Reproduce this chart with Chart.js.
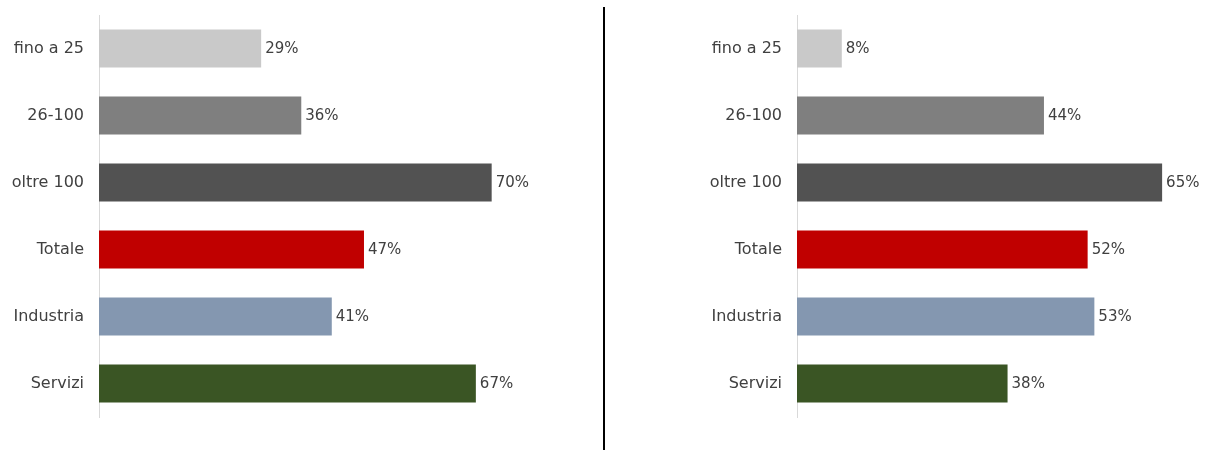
<!DOCTYPE html>
<html>
<head>
<meta charset="utf-8">
<script src="https://cdn.jsdelivr.net/npm/chart.js@4.4.1/dist/chart.umd.min.js"></script>
<style>
    html, body { margin: 0; padding: 0; background: #fff; }
    body { width: 1206px; height: 450px; position: relative; overflow: hidden; }
    .box { position: absolute; top: 0; width: 600px; height: 450px; }
    #leftBox { left: 0; }
    #rightBox { left: 606px; }
    #divider { position: absolute; left: 603px; top: 7px; width: 2px; height: 443px; background: #000; }
</style>
</head>
<body>
<div class="box" id="leftBox"><canvas id="leftChart"></canvas></div>
<div id="divider"></div>
<div class="box" id="rightBox"><canvas id="rightChart"></canvas></div>
<script>
    // Data (percent; labels show rounded values)
    const categories = ['fino a 25', '26-100', 'oltre 100', 'Totale', 'Industria', 'Servizi'];
    const leftValues = [28.7, 35.8, 69.5, 46.9, 41.2, 66.7];
    const rightValues = [8.0, 44.1, 65.2, 51.9, 53.1, 37.6];
    const barColors = ['#C9C9C9', '#7F7F7F', '#525252', '#C00000', '#8497B0', '#3A5524'];

    const fontFamily = '"DejaVu Sans", sans-serif';
    const textColor = '#404040';

    // Draws "NN%" right after each bar end
    const valueLabels = {
        id: 'valueLabels',
        afterDatasetsDraw(chart) {
            const ctx = chart.ctx;
            const meta = chart.getDatasetMeta(0);
            const data = chart.data.datasets[0].data;
            ctx.save();
            ctx.font = '15px ' + fontFamily;
            ctx.fillStyle = textColor;
            ctx.textAlign = 'left';
            ctx.textBaseline = 'middle';
            meta.data.forEach(function(bar, i) {
                ctx.fillText(Math.round(data[i]) + '%', bar.x + 4, bar.y + 1);
            });
            ctx.restore();
        }
    };

    function makeChart(id, values, axisWidth, padRight) {
        return new Chart(document.getElementById(id), {
            type: 'bar',
            data: {
                labels: categories,
                datasets: [{
                    data: values,
                    backgroundColor: barColors,
                    borderWidth: 0,
                    barPercentage: 0.567,
                    categoryPercentage: 1
                }]
            },
            options: {
                indexAxis: 'y',
                responsive: true,
                maintainAspectRatio: false,
                animation: false,
                layout: { padding: { top: 15, bottom: 33, left: 0, right: padRight } },
                plugins: {
                    legend: { display: false },
                    tooltip: { enabled: false }
                },
                scales: {
                    x: { display: false, min: 0, max: 70 },
                    y: {
                        grid: { display: false, drawTicks: false },
                        border: { display: true, color: '#D9D9D9', width: 1 },
                        ticks: {
                            color: textColor,
                            padding: 15,
                            font: { family: fontFamily, size: 16 }
                        },
                        afterFit: function(scale) {
                            scale.width = axisWidth;
                            scale.paddingTop = 0;
                            scale.paddingBottom = 0;
                        }
                    }
                }
            },
            plugins: [valueLabels]
        });
    }

    makeChart('leftChart', leftValues, 99, 105.5);
    makeChart('rightChart', rightValues, 191, 17);
</script>
</body>
</html>
